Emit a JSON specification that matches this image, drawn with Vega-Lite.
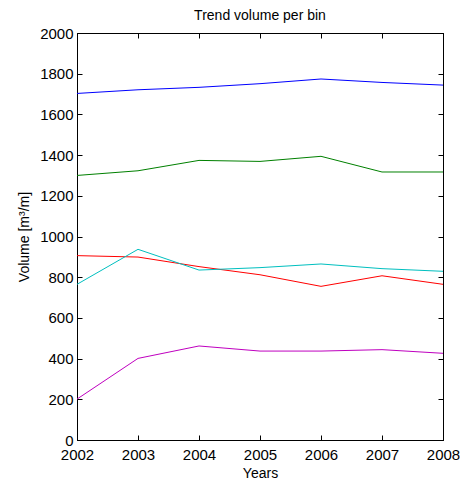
{
  "$schema": "https://vega.github.io/schema/vega-lite/v6.json",
  "width": 366,
  "height": 407,
  "autosize": {"type": "none"},
  "padding": {"left": 77, "top": 33, "right": 17, "bottom": 45},
  "background": "white",
  "title": {"text": "Trend volume per bin", "font": "Liberation Sans", "fontSize": 14, "fontWeight": "normal", "color": "black", "offset": 3},
  "config": {
    "view": {"stroke": "black", "strokeWidth": 1},
    "axis": {"grid": false, "domainColor": "black", "tickColor": "black", "labelColor": "black", "titleColor": "black", "labelFont": "Liberation Sans", "titleFont": "Liberation Sans", "labelFontSize": 15, "titleFontSize": 14, "titleFontWeight": "normal", "tickSize": -5}
  },
  "data": {"values": [
    {"year": 2002, "series": "A", "value": 1703},
    {"year": 2003, "series": "A", "value": 1721},
    {"year": 2004, "series": "A", "value": 1733},
    {"year": 2005, "series": "A", "value": 1751},
    {"year": 2006, "series": "A", "value": 1774},
    {"year": 2007, "series": "A", "value": 1757},
    {"year": 2008, "series": "A", "value": 1744},
    {"year": 2002, "series": "B", "value": 1300},
    {"year": 2003, "series": "B", "value": 1323},
    {"year": 2004, "series": "B", "value": 1374},
    {"year": 2005, "series": "B", "value": 1369},
    {"year": 2006, "series": "B", "value": 1394},
    {"year": 2007, "series": "B", "value": 1317},
    {"year": 2008, "series": "B", "value": 1317},
    {"year": 2002, "series": "C", "value": 906},
    {"year": 2003, "series": "C", "value": 899},
    {"year": 2004, "series": "C", "value": 852},
    {"year": 2005, "series": "C", "value": 812},
    {"year": 2006, "series": "C", "value": 755},
    {"year": 2007, "series": "C", "value": 807},
    {"year": 2008, "series": "C", "value": 765},
    {"year": 2002, "series": "D", "value": 765},
    {"year": 2003, "series": "D", "value": 937},
    {"year": 2004, "series": "D", "value": 835},
    {"year": 2005, "series": "D", "value": 847},
    {"year": 2006, "series": "D", "value": 865},
    {"year": 2007, "series": "D", "value": 842},
    {"year": 2008, "series": "D", "value": 829},
    {"year": 2002, "series": "E", "value": 201},
    {"year": 2003, "series": "E", "value": 401},
    {"year": 2004, "series": "E", "value": 462},
    {"year": 2005, "series": "E", "value": 437},
    {"year": 2006, "series": "E", "value": 437},
    {"year": 2007, "series": "E", "value": 444},
    {"year": 2008, "series": "E", "value": 426}
  ]},
  "layer": [
    {
      "mark": {"type": "line", "strokeWidth": 1},
      "encoding": {
        "x": {"field": "year", "type": "quantitative", "scale": {"domain": [2002, 2008], "nice": false, "zero": false},
              "axis": {"values": [2002, 2003, 2004, 2005, 2006, 2007, 2008], "format": "d", "title": "Years", "labelPadding": 12, "titlePadding": 4, "labelFlush": false}},
        "y": {"field": "value", "type": "quantitative", "scale": {"domain": [0, 2000], "nice": false},
              "axis": {"values": [0, 200, 400, 600, 800, 1000, 1200, 1400, 1600, 1800, 2000], "format": "d", "title": "Volume [m³/m]", "labelPadding": 9, "titlePadding": 8}},
        "color": {"field": "series", "type": "nominal", "legend": null,
                  "scale": {"domain": ["A", "B", "C", "D", "E"], "range": ["#0000ff", "#008000", "#ff0000", "#00bfbf", "#bf00bf"]}},
        "detail": {"field": "series"}
      }
    },
    {
      "mark": {"type": "line", "strokeOpacity": 0},
      "encoding": {
        "x": {"field": "year", "type": "quantitative", "scale": {"domain": [2002, 2008], "nice": false, "zero": false},
              "axis": {"orient": "top", "values": [2002, 2003, 2004, 2005, 2006, 2007, 2008], "labels": false, "title": null}},
        "y": {"field": "value", "type": "quantitative", "scale": {"domain": [0, 2000], "nice": false},
              "axis": {"orient": "right", "values": [0, 200, 400, 600, 800, 1000, 1200, 1400, 1600, 1800, 2000], "labels": false, "title": null}},
        "detail": {"field": "series"}
      }
    }
  ],
  "resolve": {"axis": {"x": "independent", "y": "independent"}}
}
